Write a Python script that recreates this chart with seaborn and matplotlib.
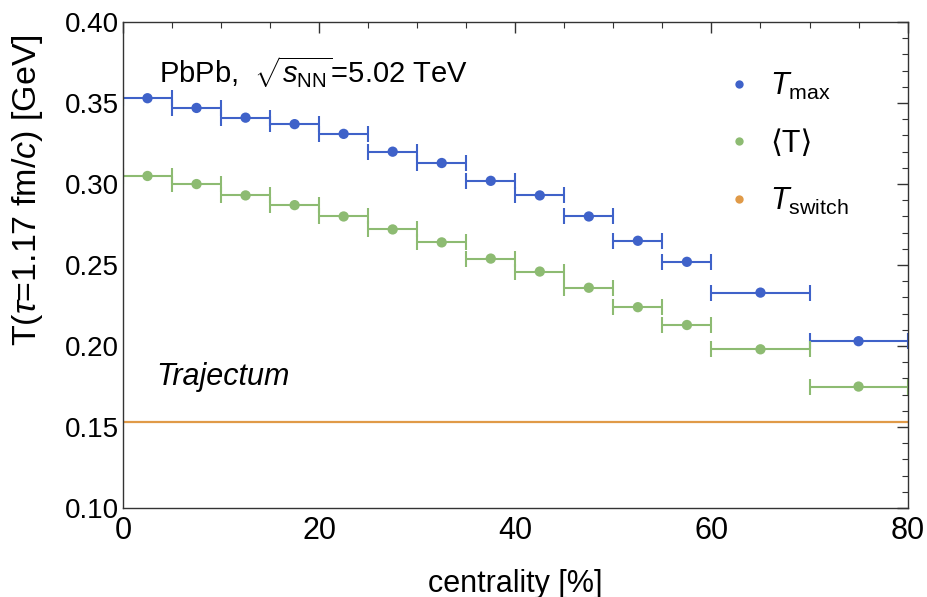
import matplotlib
matplotlib.use("Agg")
import matplotlib.pyplot as plt
import seaborn as sns
import pandas as pd
from matplotlib.lines import Line2D
from matplotlib.ticker import MultipleLocator, FormatStrFormatter

# ---- data ----
centrality = [2.5, 7.5, 12.5, 17.5, 22.5, 27.5, 32.5, 37.5, 42.5, 47.5, 52.5, 57.5, 65, 75]
bin_halfwidth = [2.5, 2.5, 2.5, 2.5, 2.5, 2.5, 2.5, 2.5, 2.5, 2.5, 2.5, 2.5, 5, 5]
t_max = [0.353, 0.347, 0.341, 0.337, 0.331, 0.320, 0.313, 0.302, 0.293, 0.280, 0.265, 0.252, 0.233, 0.203]
t_mean = [0.305, 0.300, 0.293, 0.287, 0.280, 0.272, 0.264, 0.254, 0.246, 0.236, 0.224, 0.213, 0.198, 0.175]
t_switch = 0.153

c_blue = "#3F62C9"
c_green = "#8DBB72"
c_orange = "#E09A48"

sns.set_theme(style="white")
plt.rcParams["font.family"] = ["Liberation Sans", "DejaVu Sans"]
plt.rcParams["mathtext.fontset"] = "custom"
plt.rcParams["mathtext.rm"] = "Liberation Sans"
plt.rcParams["mathtext.it"] = "Liberation Sans:italic"
plt.rcParams["mathtext.bf"] = "Liberation Sans:bold"
plt.rcParams["text.color"] = "black"
plt.rcParams["axes.labelcolor"] = "black"
plt.rcParams["xtick.color"] = "black"
plt.rcParams["ytick.color"] = "black"

df = pd.DataFrame({"centrality": centrality * 2,
                   "T": t_max + t_mean,
                   "series": ["max"] * len(t_max) + ["mean"] * len(t_mean)})

fig = plt.figure(figsize=(9.28, 5.97), dpi=100)
ax = fig.add_axes([0.1325, 0.149, 0.8455, 0.814])

ax.axhline(t_switch, color=c_orange, lw=1.6, zorder=1)
ax.errorbar(centrality, t_max, xerr=bin_halfwidth, fmt="none", ecolor=c_blue,
            elinewidth=1.5, capsize=6, capthick=1.5, zorder=2)
ax.errorbar(centrality, t_mean, xerr=bin_halfwidth, fmt="none", ecolor=c_green,
            elinewidth=1.5, capsize=6, capthick=1.5, zorder=2)
sns.scatterplot(data=df, x="centrality", y="T", hue="series",
                palette={"max": c_blue, "mean": c_green}, s=55, edgecolor="none",
                legend=False, ax=ax, zorder=3)

ax.set_xlim(0, 80)
ax.set_ylim(0.10, 0.40)
ax.xaxis.set_major_locator(MultipleLocator(20))
ax.xaxis.set_minor_locator(MultipleLocator(5))
ax.yaxis.set_major_locator(MultipleLocator(0.05))
ax.yaxis.set_minor_locator(MultipleLocator(0.01))
ax.yaxis.set_major_formatter(FormatStrFormatter("%.2f"))
ax.tick_params(which="both", direction="in", top=True, right=True, color="#333333")
ax.tick_params(which="major", length=8, width=1)
ax.tick_params(which="minor", length=4, width=0.8)
ax.tick_params(axis="x", which="major", labelsize=22, pad=6)
ax.tick_params(axis="y", which="major", labelsize=20, pad=3)
for s in ax.spines.values():
    s.set_color("#333333")
    s.set_linewidth(1.0)

ax.set_xlabel("centrality [%]", fontsize=22, labelpad=16)
ax.set_ylabel(r"T($\tau$=1.17 fm/$c$) [GeV]", fontsize=24.5)
ax.yaxis.set_label_coords(-0.099, 0.654)

ax.text(0.046, 0.897, r"PbPb,  $\sqrt{s_{\mathrm{NN}}}$=5.02 TeV", transform=ax.transAxes,
        fontsize=21, va="center", ha="left")
ax.text(0.043, 0.27, "Trajectum", transform=ax.transAxes, fontsize=22,
        style="italic", va="center", ha="left")

handles = [Line2D([], [], ls="none", marker="o", ms=6, color=c_blue, mec="none"),
           Line2D([], [], ls="none", marker="o", ms=6, color=c_green, mec="none"),
           Line2D([], [], ls="none", marker="o", ms=6, color=c_orange, mec="none")]
labels = [r"$T_{\mathrm{max}}$", "\u27e8T\u27e9", r"$T_{\mathrm{switch}}$"]
ax.legend(handles, labels, loc="upper left", bbox_to_anchor=(0.766, 0.899), frameon=False,
          borderpad=0, borderaxespad=0,
          fontsize=22, handletextpad=0.5, labelspacing=0.87, handlelength=1.0)

fig.savefig("out.png", dpi=100)
